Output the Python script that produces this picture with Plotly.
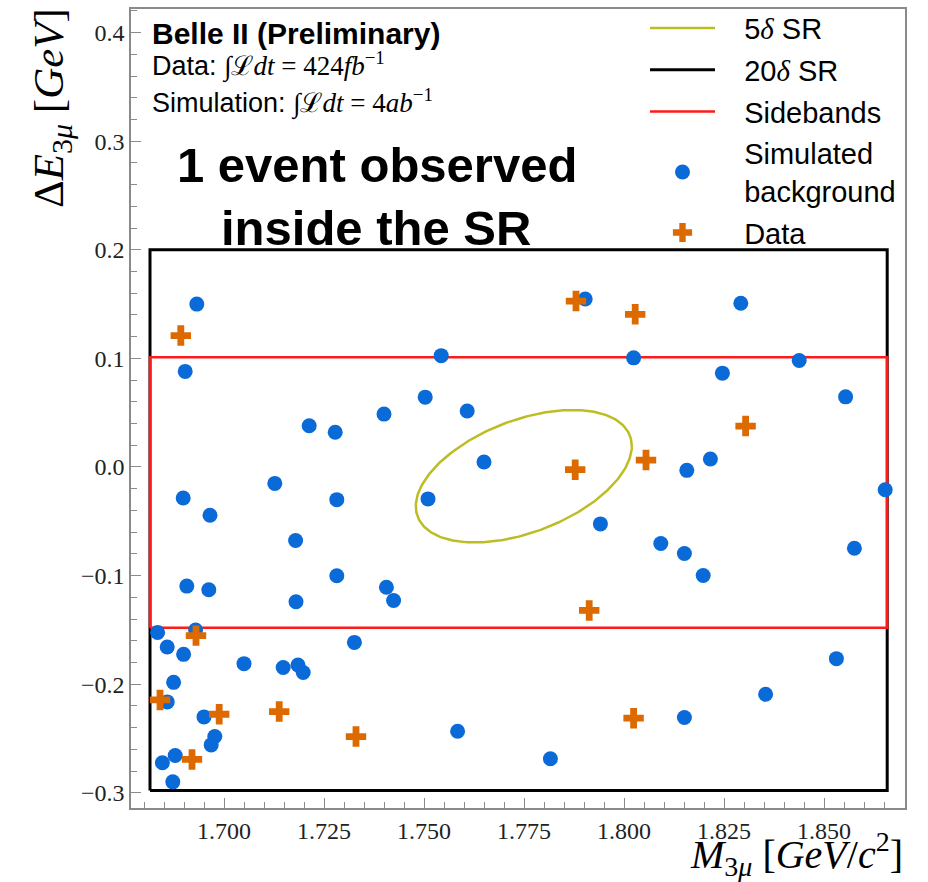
import numpy as np
import plotly.graph_objects as go

# ---------------- data ----------------
bkg_mass = [1.6932, 1.6903, 1.7543, 1.7213, 1.7278, 1.7400, 1.7503, 1.7608, 1.7650,
            1.6898, 1.6965, 1.7127, 1.7282, 1.7510, 1.7179, 1.7903, 1.8292, 1.8024,
            1.8438, 1.8246, 1.8554, 1.8216, 1.8157, 1.8653, 1.7941, 1.8092, 1.8151,
            1.8576, 1.6907, 1.6962, 1.7282, 1.7180, 1.7406, 1.7424, 1.6834, 1.6929,
            1.6858, 1.6899, 1.7326, 1.7050, 1.7148, 1.7185, 1.7198, 1.6874, 1.6858,
            1.6950, 1.6977, 1.6968, 1.6878, 1.6846, 1.6872, 1.7584, 1.8198, 1.8531,
            1.8354, 1.8151, 1.7816]
bkg_de = [0.150, 0.088, 0.1025, 0.038, 0.032, 0.0487, 0.0643, 0.0515, 0.0046,
          -0.0285, -0.0445, -0.0151, -0.0301, -0.0294, -0.0677, 0.1547, 0.1507, 0.1005,
          0.098, 0.0864, 0.0646, 0.0073, -0.0031, -0.0209, -0.0524, -0.0705, -0.0797,
          -0.0748, -0.1097, -0.1131, -0.1002, -0.1241, -0.1107, -0.1229, -0.1523, -0.1501,
          -0.1658, -0.1725, -0.1615, -0.1811, -0.1847, -0.1823, -0.1893, -0.1983, -0.2163,
          -0.2301, -0.2482, -0.2559, -0.2656, -0.2724, -0.2899, -0.2433, -0.0999, -0.1765,
          -0.2093, -0.2307, -0.2687]

data_mass = [1.6892, 1.7880, 1.8028, 1.8304, 1.8055, 1.7878, 1.6930, 1.6840, 1.6988,
             1.7138, 1.7330, 1.6920, 1.7913, 1.8024]
data_de = [0.121, 0.1528, 0.1406, 0.0377, 0.0064, -0.0025, -0.1553, -0.2145, -0.2277,
           -0.2252, -0.2482, -0.2693, -0.1321, -0.2313]

# region definitions
sr20_mass = [1.6815, 1.8658]
sr20_de = [-0.298, 0.200]
sb_mass = [1.6815, 1.8658]
sb_de = [-0.148, 0.101]
sr5_center = (1.77495, -0.0085)
sr5_halfwidth = (0.0270, 0.0610)
sr5_phase = np.deg2rad(63)

x_ticks = [1.700, 1.725, 1.750, 1.775, 1.800, 1.825, 1.850]
y_ticks = [-0.3, -0.2, -0.1, 0.0, 0.1, 0.2, 0.3, 0.4]
x_range = [1.67675, 1.87025]
y_range = [-0.3140, 0.4217]

SANS = "Liberation Sans, Arial, Helvetica, sans-serif"
SERIF = "Liberation Serif, DejaVu Serif, serif"
BLUE = "#0a6ad8"
ORANGE = "#dd6a00"
OLIVE = "#bcbd22"


def box(xs, ys):
    return [xs[0], xs[1], xs[1], xs[0], xs[0]], [ys[0], ys[0], ys[1], ys[1], ys[0]]


t = np.linspace(0, 2 * np.pi, 300)
ell_x = sr5_center[0] + sr5_halfwidth[0] * np.cos(t)
ell_y = sr5_center[1] + sr5_halfwidth[1] * np.cos(t - sr5_phase)

fig = go.Figure()
NB = "\u00a0\u00a0\u00a0"
DELTA = "<span style='font-family:Liberation Serif'><i>δ</i></span>"
fig.add_trace(go.Scatter(x=ell_x, y=ell_y, mode="lines", line=dict(color=OLIVE, width=2.5),
                         name=NB + "5" + DELTA + " SR", legendgroup="a"))
bx, by = box(sr20_mass, sr20_de)
fig.add_trace(go.Scatter(x=bx, y=by, mode="lines", line=dict(color="black", width=3),
                         name=NB + "20" + DELTA + " SR", legendgroup="b"))
bx, by = box(sb_mass, sb_de)
fig.add_trace(go.Scatter(x=bx, y=by, mode="lines", line=dict(color="#ff1a1a", width=2.5),
                         name=NB + "Sidebands", legendgroup="c"))
fig.add_trace(go.Scatter(x=bkg_mass, y=bkg_de, mode="markers",
                         marker=dict(color=BLUE, size=15, symbol="circle", line=dict(width=0)),
                         name=NB + "Simulated<br>" + NB + "background", legendgroup="d"))
fig.add_trace(go.Scatter(x=data_mass, y=data_de, mode="markers",
                         marker=dict(color=ORANGE, size=17, symbol="cross", line=dict(width=0)),
                         name=NB + "Data", legendgroup="e"))

L, R, T, B = 131, 905, 9, 808
W, H = 928, 882


def px(x):
    return (x - L) / (R - L)


def py(y):
    return (B - y) / (B - T)


mathspan = "<span style='font-family:Liberation Serif'>"
annots = [
    dict(text="<b>Belle II (Preliminary)</b>", x=px(150), y=py(33), font=dict(family=SANS, size=30, color="black")),
    dict(text="Data: " + mathspan + "∫ℒ<i>dt</i> = 424<i>fb</i><sup>−1</sup></span>", x=px(150), y=py(65),
         font=dict(family=SANS, size=27, color="black")),
    dict(text="Simulation: " + mathspan + "∫ℒ<i>dt</i> = 4<i>ab</i><sup>−1</sup></span>", x=px(150), y=py(102),
         font=dict(family=SANS, size=27, color="black")),
]
for a in annots:
    a.update(xref="paper", yref="paper", xanchor="left", yanchor="middle", showarrow=False, align="left")
    fig.add_annotation(**a)

fig.add_annotation(text="<b>1 event observed</b>", x=px(377), y=py(165), xref="paper", yref="paper",
                   xanchor="center", yanchor="middle", showarrow=False,
                   font=dict(family=SANS, size=49, color="black"))
fig.add_annotation(text="<b>inside the SR</b>", x=px(376), y=py(228), xref="paper", yref="paper",
                   xanchor="center", yanchor="middle", showarrow=False,
                   font=dict(family=SANS, size=49, color="black"))

# axis titles
fig.add_annotation(text="<i>M</i><sub>3<i>μ</i></sub> [<i>GeV</i>/<i>c</i><sup>2</sup>]",
                   x=1.0, y=py(854), xref="paper", yref="paper", xanchor="right", yanchor="middle",
                   showarrow=False, font=dict(family=SERIF, size=40, color="black"))
fig.add_annotation(text="Δ<i>E</i><sub>3<i>μ</i></sub> [<i>GeV</i>]",
                   x=px(52), y=py(6), xref="paper", yref="paper", xanchor="center", yanchor="top",
                   textangle=-90, showarrow=False, font=dict(family=SERIF, size=43, color="black"))

axcommon = dict(showline=True, mirror=True, linecolor="#8a8a8a", linewidth=1.5,
                ticks="inside", ticklen=10, tickwidth=1.3, tickcolor="#8a8a8a",
                showgrid=False, zeroline=False,
                tickfont=dict(family=SERIF, size=24, color="#222"))
fig.update_xaxes(range=x_range, tickvals=x_ticks, ticktext=[f"{v:.3f}" for v in x_ticks],
                 minor=dict(dtick=0.005, tick0=1.7, ticks="inside", ticklen=6, tickcolor="#8a8a8a", tickwidth=1.2),
                 **axcommon)
fig.update_yaxes(range=y_range, tickvals=y_ticks, ticktext=[f"{v:.1f}".replace("-", "−") for v in y_ticks],
                 minor=dict(dtick=0.02, tick0=0, ticks="inside", ticklen=6, tickcolor="#8a8a8a", tickwidth=1.2),
                 **axcommon)

fig.update_layout(
    width=W, height=H, autosize=False,
    margin=dict(l=L, r=W - R, t=T, b=H - B, pad=0, autoexpand=False),
    plot_bgcolor="white", paper_bgcolor="white",
    showlegend=True,
    legend=dict(x=px(645), y=0.997, xref="paper", yref="container", xanchor="left", yanchor="top",
                bgcolor="rgba(0,0,0,0)",
                font=dict(family=SANS, size=29, color="black"), itemwidth=65,
                traceorder="grouped", tracegroupgap=1, borderwidth=0),
)

fig.write_html("out.html")
